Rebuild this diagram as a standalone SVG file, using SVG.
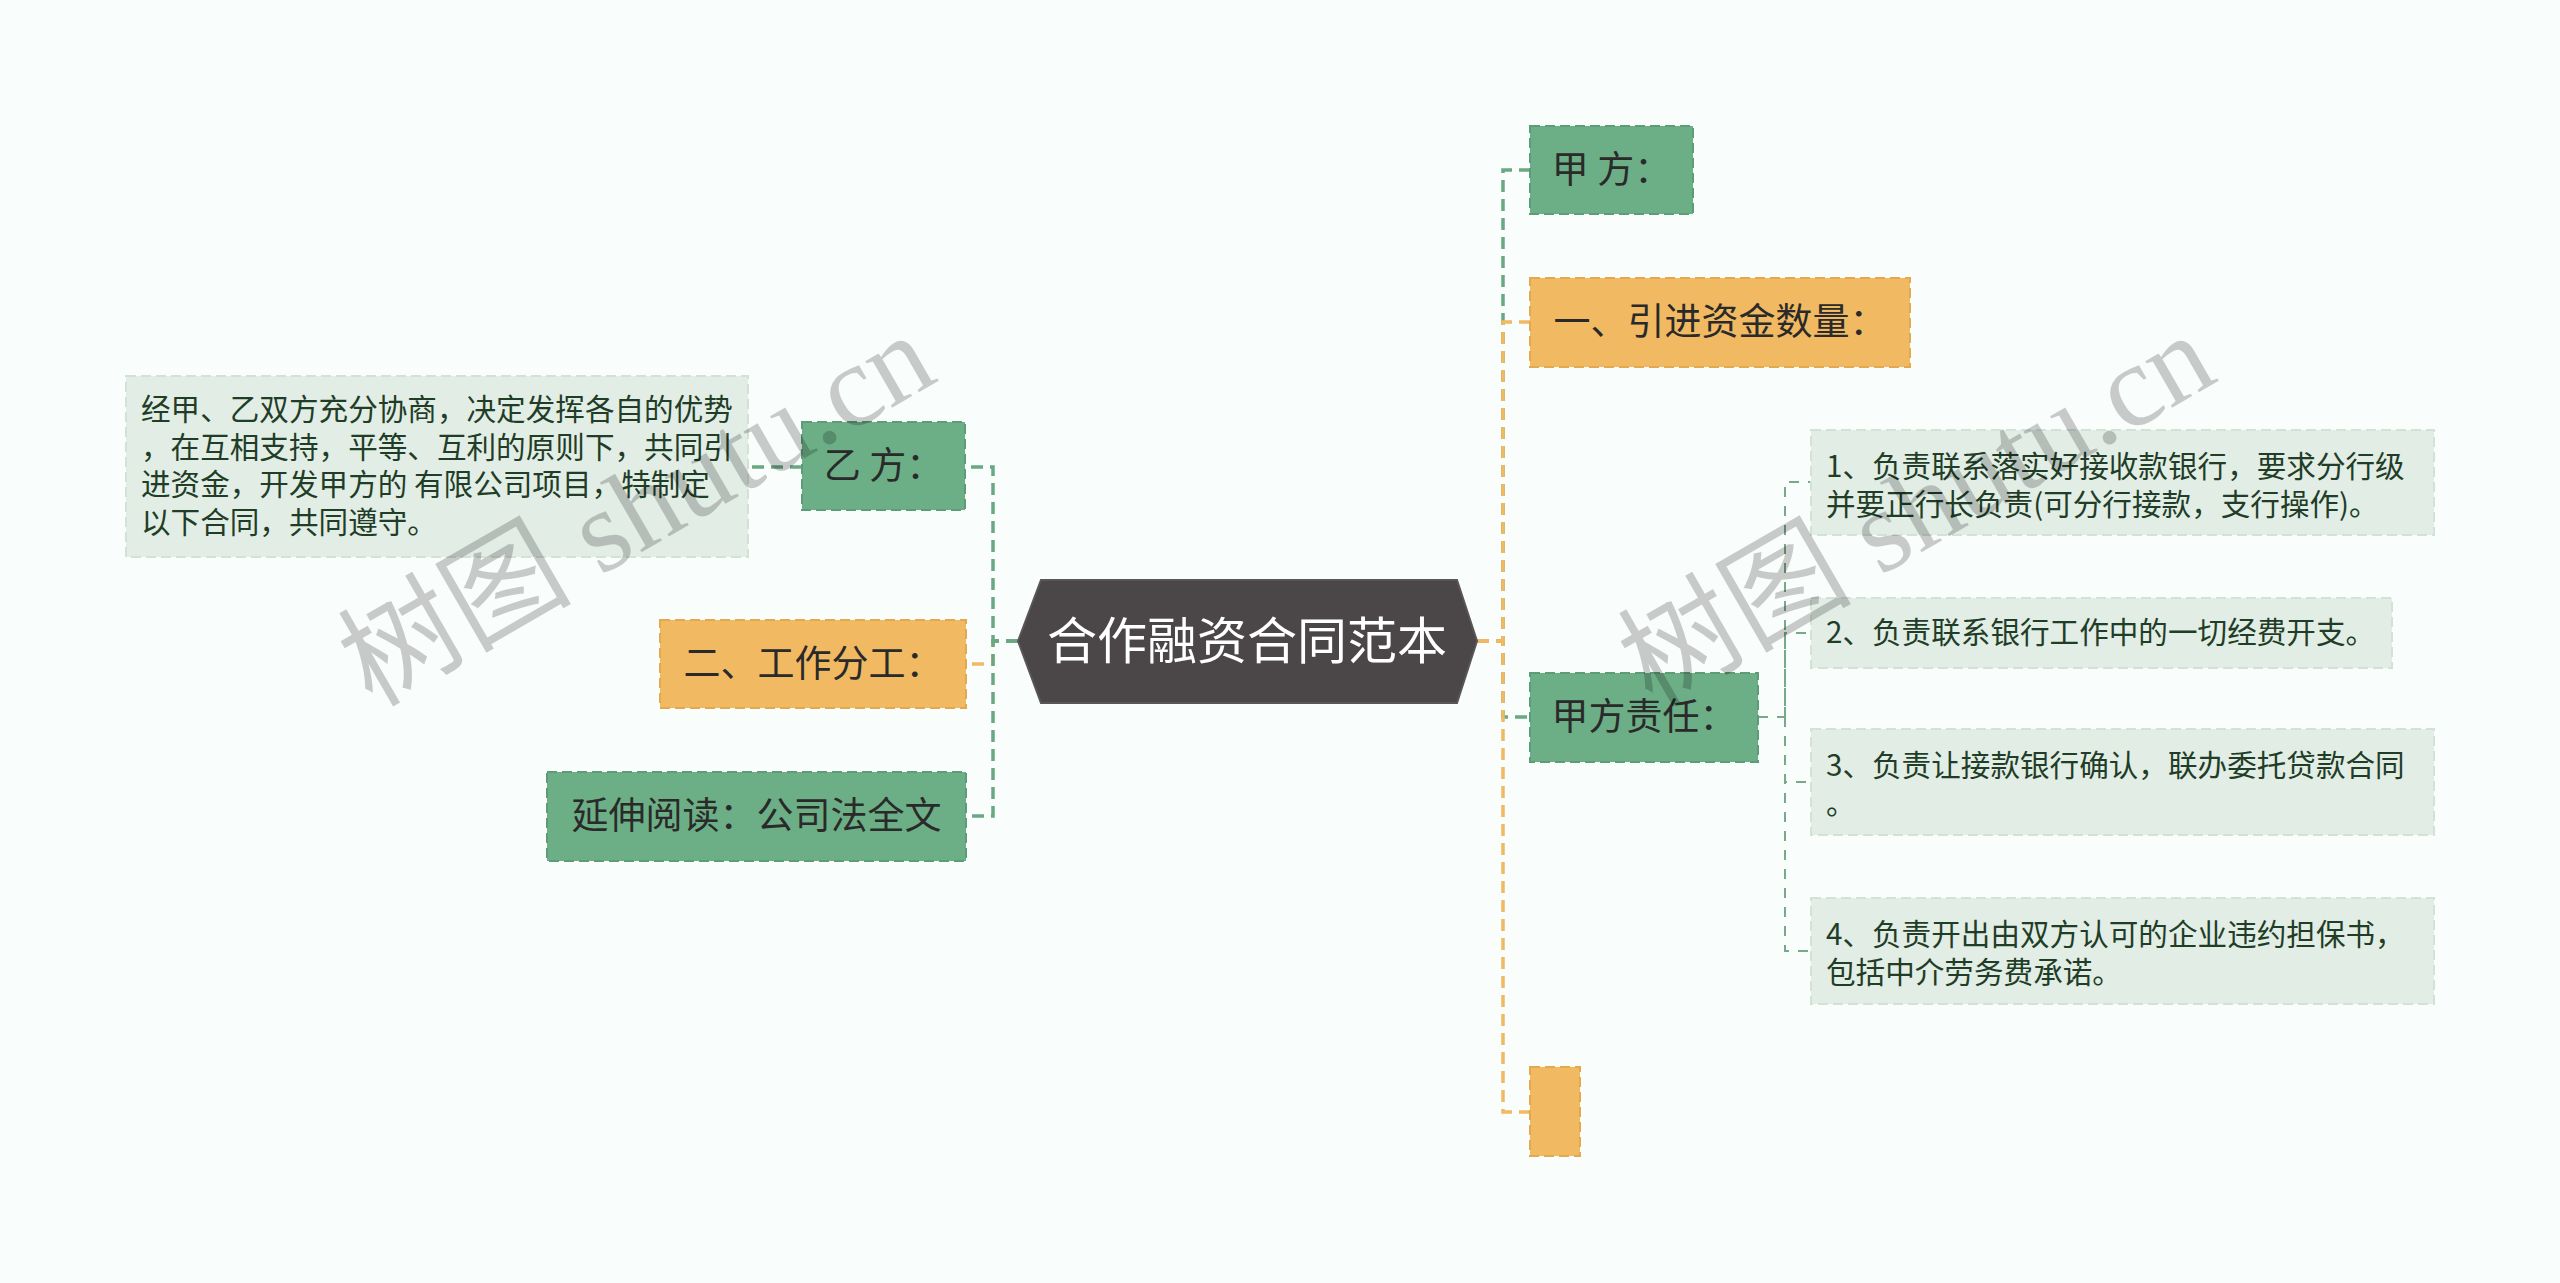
<svg xmlns="http://www.w3.org/2000/svg" width="2560" height="1283" viewBox="0 0 2560 1283">
<style>
  .bg { fill: #f9fdfb; }
  .ng { fill: #6caf86; stroke: #5c9c76; stroke-width: 2; stroke-dasharray: 10 5; }
  .no { fill: #f0b962; stroke: #e3a94f; stroke-width: 2; stroke-dasharray: 10 5; }
  .nd { fill: #e2ede5; stroke: #d3e2d7; stroke-width: 2; stroke-dasharray: 10 5; }
  .lbl { font-family: "Noto Sans CJK SC", "Noto Sans", sans-serif; font-size: 37px; fill: #2a2a2a; text-anchor: middle; }
  .dsc { font-family: "Noto Sans CJK SC", "Noto Sans", sans-serif; font-size: 29.6px; fill: #1f3d27; }
  .cg { fill: none; stroke: #68a883; stroke-width: 3.5; stroke-dasharray: 12 7; }
  .co { fill: none; stroke: #f0b962; stroke-width: 3.5; stroke-dasharray: 12 7; }
  .ct { fill: none; stroke: #78a98a; stroke-width: 2; stroke-dasharray: 10 9; }
  .wm { font-family: "Liberation Serif", "Noto Sans CJK SC", serif; font-size: 117px; fill: #000; fill-opacity: 0.2; }
</style>
<rect class="bg" x="0" y="0" width="2560" height="1283"/>

<g id="connectors">
  <path class="co" d="M1018 641 H993 V664 H966"/>
  <path class="cg" d="M1018 641 H993 V467 H965"/>
  <path class="cg" d="M1018 641 H993 V816 H966"/>
  <path class="cg" d="M802 467 H748"/>
  <path class="cg" d="M1477 641 H1503 V170 H1530"/>
  <path class="cg" d="M1477 641 H1503 V717 H1530"/>
  <path class="co" d="M1477 641 H1503 V322 H1530"/>
  <path class="co" d="M1477 641 H1503 V1112 H1530"/>
  <path class="ct" d="M1758 717 H1785 V482 H1811"/>
  <path class="ct" d="M1785 717 V633 H1811"/>
  <path class="ct" d="M1785 717 V782 H1811"/>
  <path class="ct" d="M1785 717 V951 H1811"/>
</g>

<g id="root">
  <polygon points="1018,641 1041,580 1457,580 1477,641 1457,703 1041,703" fill="#4b4647" stroke="#5a5556" stroke-width="2"/>
  <text x="1247" y="659" font-family="Noto Sans CJK SC, sans-serif" font-size="50" fill="#ffffff" text-anchor="middle">合作融资合同范本</text>
</g>

<g id="node-yifang">
  <rect class="ng" x="802" y="422" width="163" height="88"/>
  <text class="lbl" x="883.5" y="479">乙 方：</text>
</g>
<g id="node-yifang-desc">
  <rect class="nd" x="126" y="376" width="622" height="181"/>
  <text class="dsc" x="141" y="420">经甲、乙双方充分协商，决定发挥各自的优势</text>
  <text class="dsc" x="141" y="458">，在互相支持，平等、互利的原则下，共同引</text>
  <text class="dsc" x="141" y="495">进资金，开发甲方的 有限公司项目，特制定</text>
  <text class="dsc" x="141" y="533">以下合同，共同遵守。</text>
</g>
<g id="node-fengong">
  <rect class="no" x="660" y="620" width="306" height="88"/>
  <text class="lbl" x="813" y="677">二、工作分工：</text>
</g>
<g id="node-yanshen">
  <rect class="ng" x="547" y="772" width="419" height="89"/>
  <text class="lbl" x="756.5" y="829">延伸阅读：公司法全文</text>
</g>

<g id="node-jiafang">
  <rect class="ng" x="1530" y="126" width="163" height="88"/>
  <text class="lbl" x="1611.5" y="183">甲 方：</text>
</g>
<g id="node-zijin">
  <rect class="no" x="1530" y="278" width="380" height="89"/>
  <text class="lbl" x="1720" y="335">一、引进资金数量：</text>
</g>
<g id="node-zeren">
  <rect class="ng" x="1530" y="673" width="228" height="89"/>
  <text class="lbl" x="1644" y="730">甲方责任：</text>
</g>
<g id="node-empty">
  <rect class="no" x="1530" y="1067" width="50" height="89"/>
</g>

<g id="node-item1">
  <rect class="nd" x="1811" y="430" width="623" height="105"/>
  <text class="dsc" x="1826" y="477">1、负责联系落实好接收款银行，要求分行级</text>
  <text class="dsc" x="1826" y="515">并要正行长负责(可分行接款，支行操作)。</text>
</g>
<g id="node-item2">
  <rect class="nd" x="1811" y="598" width="581" height="70"/>
  <text class="dsc" x="1826" y="643">2、负责联系银行工作中的一切经费开支。</text>
</g>
<g id="node-item3">
  <rect class="nd" x="1811" y="729" width="623" height="106"/>
  <text class="dsc" x="1826" y="776">3、负责让接款银行确认，联办委托贷款合同</text>
  <text class="dsc" x="1826" y="814">。</text>
</g>
<g id="node-item4">
  <rect class="nd" x="1811" y="898" width="623" height="106"/>
  <text class="dsc" x="1826" y="945">4、负责开出由双方认可的企业违约担保书，</text>
  <text class="dsc" x="1826" y="983">包括中介劳务费承诺。</text>
</g>

<g id="watermarks">
  <text class="wm" x="372" y="708" transform="rotate(-30 372 708)">树图 shutu.cn</text>
  <text class="wm" x="1652" y="708" transform="rotate(-30 1652 708)">树图 shutu.cn</text>
</g>
</svg>
